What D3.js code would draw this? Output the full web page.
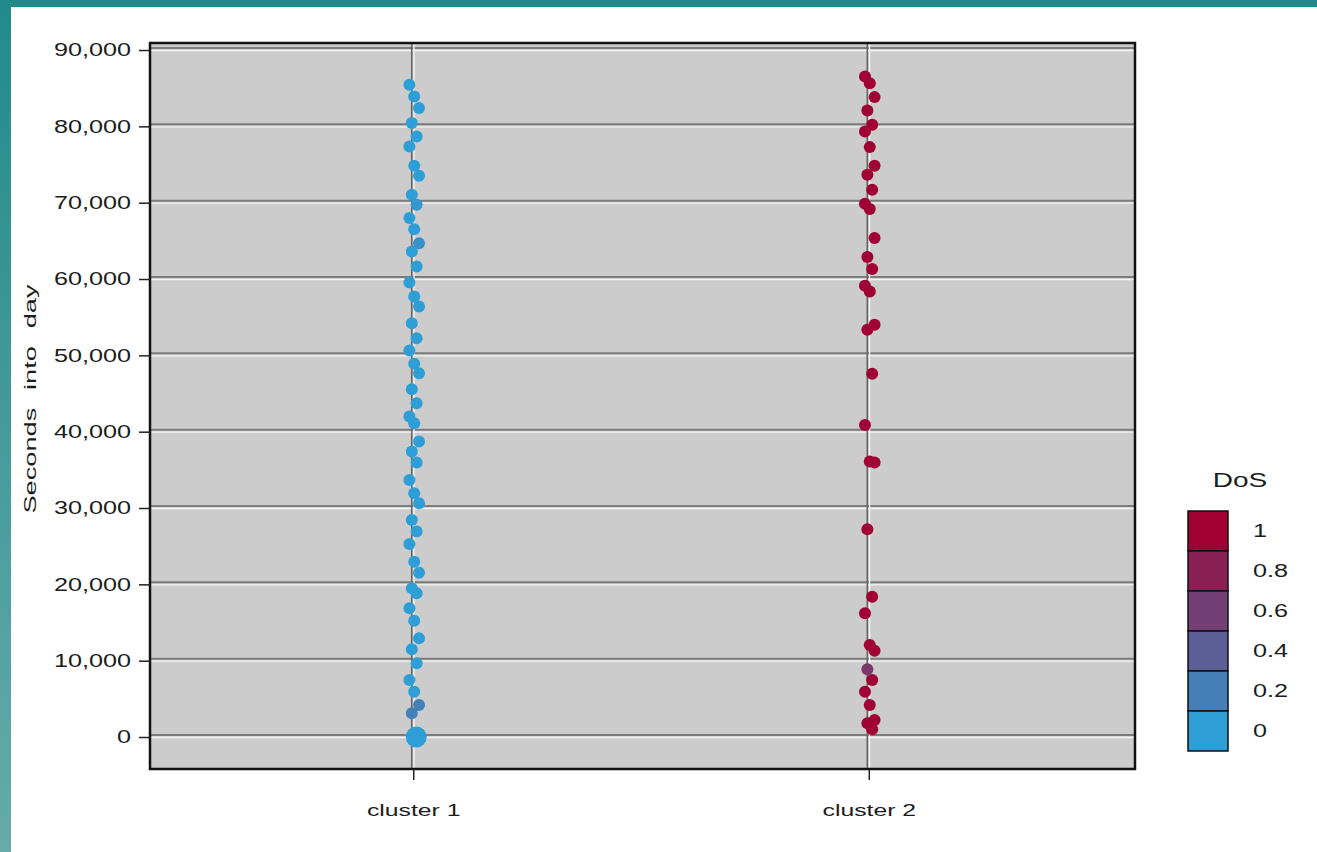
<!DOCTYPE html>
<html lang="en">
<head>
    <meta charset="UTF-8">
    <title>Seconds into day by cluster</title>
    <script src="https://d3js.org/d3.v7.min.js"></script>
    <style>
        body { margin: 0; background: #fff; }
        text { font-family: "Liberation Sans", Arial, sans-serif; fill: #1c1c1c; }
    </style>
</head>
<body>
    <svg class="chart"></svg>

    <script>
        // data
        const categories = ['cluster 1', 'cluster 2'];

        const c1Seconds = [85450, 83920, 82390, 80430, 78680, 77370, 74840, 73530, 71040, 69720,
                           67980, 66530, 64700, 63600, 61640, 59540, 57710, 56400, 54220, 52250,
                           50630, 48890, 47670, 45570, 43730, 41980, 41110, 38700, 37390, 35950,
                           33680, 31940, 30630, 28440, 26910, 25290, 22970, 21530, 19490, 18830,
                           16870, 15240, 12940, 11490, 9660, 7470, 5940, 4190, 3100, 0];
        const c1Dos = [0, 0, 0, 0, 0, 0, 0, 0, 0, 0.05,
                       0, 0, 0.08, 0, 0, 0, 0, 0, 0, 0,
                       0, 0, 0, 0, 0, 0, 0, 0, 0, 0,
                       0, 0, 0, 0, 0, 0, 0, 0, 0, 0,
                       0, 0, 0, 0, 0, 0, 0, 0.18, 0.18, 0];
        // the point at 0 stands for several sessions
        const c1Count = [1, 1, 1, 1, 1, 1, 1, 1, 1, 1,
                         1, 1, 1, 1, 1, 1, 1, 1, 1, 1,
                         1, 1, 1, 1, 1, 1, 1, 1, 1, 1,
                         1, 1, 1, 1, 1, 1, 1, 1, 1, 1,
                         1, 1, 1, 1, 1, 1, 1, 1, 1, 4];

        const c2Seconds = [86540, 85660, 83830, 82080, 80210, 79330, 77280, 74840, 73660, 71690,
                           69860, 69160, 65360, 62870, 61300, 59110, 58370, 54000, 53340, 47580,
                           40890, 36080, 35950, 27220, 18390, 16210, 12060, 11310, 8870, 7470,
                           5940, 4190, 2230, 1800, 1010];
        const c2Dos = [1, 1, 1, 1, 1, 1, 1, 1, 1, 1,
                       1, 1, 1, 1, 1, 1, 1, 1, 1, 1,
                       1, 1, 1, 1, 1, 1, 1, 1, 0.65, 1,
                       1, 1, 1, 1, 1];

        const yTicks = [0, 10000, 20000, 30000, 40000, 50000, 60000, 70000, 80000, 90000];
        const legendValues = [1, 0.8, 0.6, 0.4, 0.2, 0];

        const points = [];
        c1Seconds.forEach((s, i) => points.push({ cat: categories[0], s: s, dos: c1Dos[i], n: c1Count[i], i: i }));
        c2Seconds.forEach((s, i) => points.push({ cat: categories[1], s: s, dos: c2Dos[i], n: 1, i: i }));

        const W = 1317, H = 852;
        const plot = { left: 150, top: 43, right: 1135, bottom: 769 };

        const svg = d3.select('.chart').attr('width', W).attr('height', H);

        // stretch text horizontally, the source picture is wide
        function stretch(sel, k) {
            sel.each(function () {
                const len = this.getComputedTextLength();
                d3.select(this).attr('textLength', len * k).attr('lengthAdjust', 'spacingAndGlyphs');
            });
        }

        // teal frame of the slide
        const grad = svg.append('defs').append('linearGradient')
            .attr('id', 'edge').attr('x1', 0).attr('y1', 0).attr('x2', 0).attr('y2', 1);
        grad.append('stop').attr('offset', '0%').attr('stop-color', '#228a8a');
        grad.append('stop').attr('offset', '100%').attr('stop-color', '#66abab');
        svg.append('rect').attr('x', 0).attr('y', 0).attr('width', 11).attr('height', H).attr('fill', 'url(#edge)');
        svg.append('rect').attr('x', 0).attr('y', 0).attr('width', W).attr('height', 7).attr('fill', '#228a8a');

        const x = d3.scalePoint().domain(categories).range([149, 1133]).padding(0.58);
        const y = d3.scaleLinear().domain([-4190, 90920]).range([plot.bottom, plot.top]);
        const color = d3.scaleLinear().domain([0, 1]).range(['#2e9fd6', '#a00034']);
        const r = d3.scaleSqrt().domain([1, 4]).range([6, 10.5]);

        // plot background
        svg.append('rect')
            .attr('x', plot.left).attr('y', plot.top)
            .attr('width', plot.right - plot.left).attr('height', plot.bottom - plot.top)
            .attr('fill', '#cccccc');

        // embossed gridlines
        const grid = svg.append('g');
        yTicks.forEach(t => {
            grid.append('line').attr('x1', plot.left).attr('x2', plot.right)
                .attr('y1', y(t) - 2).attr('y2', y(t) - 2)
                .attr('stroke', '#7c7c7c').attr('stroke-width', 2);
            grid.append('line').attr('x1', plot.left).attr('x2', plot.right)
                .attr('y1', y(t) + 0.5).attr('y2', y(t) + 0.5)
                .attr('stroke', '#f4f4f4').attr('stroke-width', 1.3);
        });
        categories.forEach(c => {
            grid.append('line').attr('y1', plot.top).attr('y2', plot.bottom)
                .attr('x1', x(c) - 1.5).attr('x2', x(c) - 1.5)
                .attr('stroke', '#666').attr('stroke-width', 1.6);
            grid.append('line').attr('y1', plot.top).attr('y2', plot.bottom)
                .attr('x1', x(c) + 0.8).attr('x2', x(c) + 0.8)
                .attr('stroke', '#f4f4f4').attr('stroke-width', 1.3);
        });

        // small fixed jitter so the dots do not sit in one column
        const jitter = i => ((i * 7) % 5 - 2) * 2.4 + 1;

        svg.append('g').selectAll('circle')
            .data(points)
            .enter()
            .append('circle')
            .attr('cx', d => x(d.cat) + (d.n > 1 ? 3 : jitter(d.i)))
            .attr('cy', d => y(d.s))
            .attr('r', d => r(d.n))
            .attr('fill', d => color(d.dos));

        // plot border
        svg.append('rect')
            .attr('x', plot.left).attr('y', plot.top)
            .attr('width', plot.right - plot.left).attr('height', plot.bottom - plot.top)
            .attr('fill', 'none').attr('stroke', '#111').attr('stroke-width', 2.5);

        // axes
        const yAxis = svg.append('g')
            .attr('transform', `translate(${plot.left},0)`)
            .call(d3.axisLeft(y).tickValues(yTicks).tickFormat(d3.format(',')).tickSize(11).tickPadding(8));
        yAxis.select('.domain').remove();
        yAxis.selectAll('line').attr('stroke', '#222').attr('stroke-width', 1.5);
        yAxis.selectAll('text').attr('font-size', 18).attr('fill', '#1c1c1c')
            .style('font-family', '"Liberation Sans", Arial, sans-serif');
        stretch(yAxis.selectAll('text'), 1.4);

        const xAxis = svg.append('g')
            .attr('transform', `translate(0,${plot.bottom})`)
            .call(d3.axisBottom(x).tickSize(11).tickPadding(24));
        xAxis.select('.domain').remove();
        xAxis.selectAll('line').attr('stroke', '#222').attr('stroke-width', 1.5);
        xAxis.selectAll('text').attr('font-size', 16.5).attr('fill', '#1c1c1c')
            .style('font-family', '"Liberation Sans", Arial, sans-serif');
        stretch(xAxis.selectAll('text'), 1.5);

        const yTitle = svg.append('text')
            .attr('transform', `translate(36,${(plot.top + plot.bottom) / 2 - 7}) rotate(-90)`)
            .attr('text-anchor', 'middle')
            .attr('font-size', 16)
            .attr('word-spacing', 6)
            .text('Seconds into day');
        stretch(yTitle, 1.7);

        // legend
        const legend = svg.append('g').attr('transform', 'translate(1188,511)');
        const boxH = 40;
        legend.append('text')
            .attr('x', 52).attr('y', -24)
            .attr('text-anchor', 'middle')
            .attr('font-size', 20)
            .text('DoS');
        stretch(legend.selectAll('text'), 1.4);

        legend.selectAll('rect')
            .data(legendValues)
            .enter()
            .append('rect')
            .attr('x', 0).attr('y', (d, i) => i * boxH)
            .attr('width', 40).attr('height', boxH)
            .attr('fill', d => color(d))
            .attr('stroke', '#111').attr('stroke-width', 1.5);

        const labels = legend.selectAll('.lab')
            .data(legendValues)
            .enter()
            .append('text')
            .attr('class', 'lab')
            .attr('x', 65).attr('y', (d, i) => i * boxH + boxH / 2)
            .attr('dy', '0.35em')
            .attr('font-size', 18)
            .text(d => d3.format('')(d));
        stretch(labels, 1.4);
    </script>
</body>
</html>
